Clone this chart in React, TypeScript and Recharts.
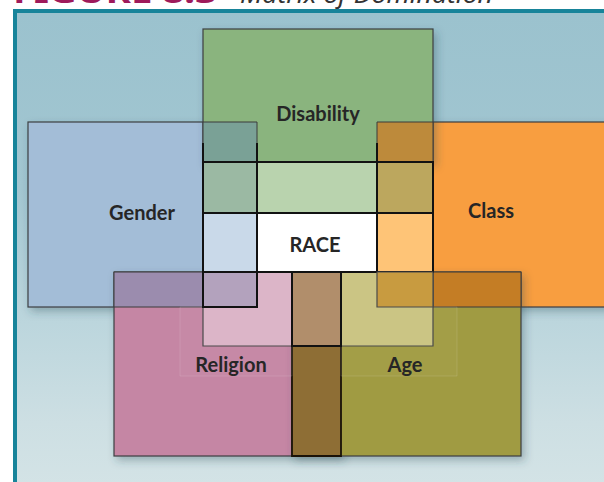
import React from 'react';
import { ScatterChart, Scatter, XAxis, YAxis, ReferenceArea, ReferenceLine } from 'recharts';

// the five outer domains, in drawing order (figure units: x to the right, y downwards)
const domains = ['Gender', 'Class', 'Disability', 'Religion', 'Age'];
const domainLeft = [28, 377, 203, 114, 292];
const domainRight = [257, 640, 433, 341, 521];
const domainTop = [122, 122, 29, 272, 272];
const domainBottom = [307, 307, 162, 456, 456];

// where two domains cross outside the race core: [x1, x2, y1, y2]
const overlaps = ['Gender+Disability', 'Disability+Class', 'Gender+Religion', 'Class+Age', 'Religion+Age'];
const overlapBoxes = [
  [203, 257, 122, 162],
  [377, 433, 122, 162],
  [114, 203, 272, 307],
  [433, 521, 272, 307],
  [292, 341, 272, 456],
];

// faint boxes behind the religion / age captions
const captionBoxes = [
  [180, 292, 307, 376],
  [341, 457, 307, 376],
];

// the race core: every domain seen through race
const core = [
  'Race+Religion', 'Race+Age',
  'Race+Gender+Disability', 'Race+Disability', 'Race+Disability+Class',
  'Race+Gender', 'Race', 'Race+Class',
  'Race+Gender+Religion', 'Race+Class+Age', 'Race+Religion+Age',
];
const coreBoxes = [
  [203, 292, 272, 346],
  [341, 433, 272, 346],
  [203, 257, 162, 213],
  [257, 377, 162, 213],
  [377, 433, 162, 213],
  [203, 257, 213, 272],
  [257, 377, 213, 272],
  [377, 433, 213, 272],
  [203, 257, 272, 307],
  [377, 433, 272, 307],
  [292, 341, 272, 346],
];

// short dark rules where the core columns meet the top row
const ruleX = [203, 257, 377];
const ruleFrom = 143;
const ruleTo = 162;

const labels = ['Disability', 'Gender', 'Class', 'RACE', 'Religion', 'Age'];
const labelX = [318, 142, 491, 315, 231, 405];
const labelY = [113, 212, 210, 244, 364, 364];

const colors: Record<string, string> = {
  Gender: '#a3bdd7',
  Class: '#f89e3f',
  Disability: '#8ab47e',
  Religion: '#c586a4',
  Age: '#a09b43',
  'Gender+Disability': '#7aa196',
  'Disability+Class': '#bd8a3b',
  'Gender+Religion': '#9b8cae',
  'Class+Age': '#c47d25',
  'Religion+Age': '#8e6e35',
  'Race+Religion': '#dcb5c8',
  'Race+Age': '#cbc584',
  'Race+Gender+Disability': '#9bb9a3',
  'Race+Disability': '#b9d3ae',
  'Race+Disability+Class': '#bca75e',
  'Race+Gender': '#c9d9e9',
  Race: '#ffffff',
  'Race+Class': '#fec477',
  'Race+Gender+Religion': '#b3a2bd',
  'Race+Class+Age': '#c89b40',
  'Race+Religion+Age': '#b18e6b',
};

const labelData = labels.map((name, i) => ({ x: labelX[i], y: labelY[i], name }));

const shadowRect = (fill: string) => (p: any) => (
  <rect
    x={p.x}
    y={p.y}
    width={p.width}
    height={p.height}
    fill={fill}
    stroke="#3c3f42"
    strokeWidth={1.2}
    filter="url(#boxShadow)"
  />
);

const renderLabel = (p: any) => (
  <text
    x={p.cx}
    y={p.cy}
    textAnchor="middle"
    dominantBaseline="central"
    fontFamily="Lato, 'Noto Sans', sans-serif"
    fontWeight={700}
    fontSize={20}
    fill="#262626"
  >
    {p.payload.name}
  </text>
);

export default function App() {
  return (
    <div
      style={{
        position: 'absolute',
        left: 0,
        top: 0,
        width: 604,
        height: 482,
        overflow: 'hidden',
        background: '#fff',
      }}
    >
      <svg width={604} height={9} style={{ position: 'absolute', left: 0, top: 0 }}>
        <text
          x={13}
          y={3}
          fontFamily="'Noto Sans', sans-serif"
          fontWeight={700}
          fontSize={30}
          fill="#9e1a5b"
          textLength={204}
          lengthAdjust="spacingAndGlyphs"
        >
          FIGURE 8.3
        </text>
        <text
          x={240}
          y={3}
          fontFamily="'Noto Sans', sans-serif"
          fontStyle="italic"
          fontSize={24}
          fill="#333"
          textLength={253}
          lengthAdjust="spacingAndGlyphs"
        >
          Matrix of Domination
        </text>
      </svg>
      <div
        style={{
          position: 'absolute',
          left: 13,
          top: 9,
          width: 620,
          height: 500,
          borderLeft: '4px solid #17849a',
          borderTop: '4px solid #17849a',
          background:
            'linear-gradient(180deg, #9bc2ce 0%, #a2c6d1 35%, #bcd6dd 62%, #cddfe3 82%, #d6e5e7 100%)',
        }}
      />
      <div style={{ position: 'absolute', left: 0, top: 0 }}>
        <ScatterChart width={604} height={482} margin={{ top: 0, right: 0, bottom: 0, left: 0 }}>
          <defs>
            <filter id="boxShadow" x="-20%" y="-20%" width="150%" height="150%">
              <feDropShadow dx={3} dy={4} stdDeviation={4} floodColor="#2c4a55" floodOpacity={0.35} />
            </filter>
          </defs>
          <XAxis type="number" dataKey="x" domain={[0, 604]} hide allowDataOverflow />
          <YAxis type="number" dataKey="y" domain={[0, 482]} reversed hide allowDataOverflow />

          {domains.map((name, i) => (
            <ReferenceArea
              key={name}
              x1={domainLeft[i]}
              x2={domainRight[i]}
              y1={domainTop[i]}
              y2={domainBottom[i]}
              ifOverflow="visible"
              shape={shadowRect(colors[name])}
            />
          ))}

          {overlaps.map((name, i) => (
            <ReferenceArea
              key={name}
              x1={overlapBoxes[i][0]}
              x2={overlapBoxes[i][1]}
              y1={overlapBoxes[i][2]}
              y2={overlapBoxes[i][3]}
              fill={colors[name]}
              fillOpacity={1}
              stroke={name === 'Religion+Age' ? '#1a1208' : '#3a3a3a'}
              strokeWidth={name === 'Religion+Age' ? 1.8 : 1}
              ifOverflow="visible"
            />
          ))}

          {captionBoxes.map((b, i) => (
            <ReferenceArea
              key={'cap' + i}
              x1={b[0]}
              x2={b[1]}
              y1={b[2]}
              y2={b[3]}
              fill="#ffffff"
              fillOpacity={0.03}
              stroke="#ffffff"
              strokeOpacity={0.12}
              strokeWidth={1}
              ifOverflow="visible"
            />
          ))}

          {core.map((name, i) => {
            const soft = i < 2 || name === 'Race+Class+Age';
            return (
              <ReferenceArea
                key={name}
                x1={coreBoxes[i][0]}
                x2={coreBoxes[i][1]}
                y1={coreBoxes[i][2]}
                y2={coreBoxes[i][3]}
                fill={colors[name]}
                fillOpacity={1}
                stroke={soft ? '#4a4a4a' : '#121212'}
                strokeWidth={soft ? 1.2 : 2}
                ifOverflow="visible"
              />
            );
          })}

          {ruleX.map((x) => (
            <ReferenceLine
              key={'rule' + x}
              segment={[
                { x, y: ruleFrom },
                { x, y: ruleTo },
              ]}
              stroke="#121212"
              strokeWidth={2}
              ifOverflow="visible"
            />
          ))}

          <Scatter data={labelData} shape={renderLabel} isAnimationActive={false} />
        </ScatterChart>
      </div>
    </div>
  );
}
